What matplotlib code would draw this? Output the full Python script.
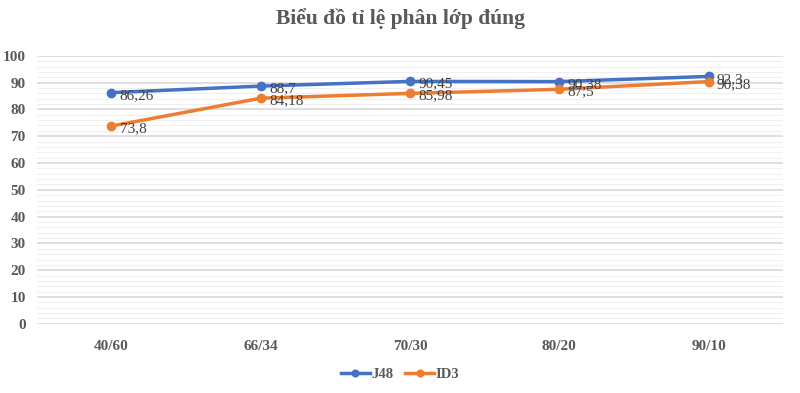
import matplotlib.pyplot as plt
from matplotlib.ticker import MultipleLocator

categorias = ['40/60', '66/34', '70/30', '80/20', '90/10']
j48 = [86.26, 88.7, 90.45, 90.38, 92.3]
id3 = [73.8, 84.18, 85.98, 87.5, 90.38]
etiquetas_j48 = ['86,26', '88,7', '90,45', '90,38', '92,3']
etiquetas_id3 = ['73,8', '84,18', '85,98', '87,5', '90,38']

plt.rcParams['font.family'] = ['Liberation Serif', 'DejaVu Serif']

fig = plt.figure(figsize=(8, 3.93), dpi=100)
ax = fig.add_axes([0.046, 0.176, 0.933, 0.682])

x = list(range(len(categorias)))
ax.plot(x, j48, color='#4472C4', lw=2.5, marker='o', ms=6, label='J48', zorder=3)
ax.plot(x, id3, color='#ED7D31', lw=2.5, marker='o', ms=6, label='ID3', zorder=3)

# etiquetas de datos a la derecha de cada punto
for xi, v, t in zip(x, j48, etiquetas_j48):
    ax.annotate(t, (xi, v), xytext=(6, -2), textcoords='offset points',
                va='center', ha='left', fontsize=11, color='#404040', zorder=4)
for xi, v, t in zip(x, id3, etiquetas_id3):
    ax.annotate(t, (xi, v), xytext=(6, -2), textcoords='offset points',
                va='center', ha='left', fontsize=11, color='#404040', zorder=4)

ax.set_xlim(-0.5, 4.5)
ax.set_ylim(0, 100)
ax.yaxis.set_major_locator(MultipleLocator(10))
ax.yaxis.set_minor_locator(MultipleLocator(2))
ax.set_xticks(x)
ax.set_xticklabels(categorias)
ax.grid(axis='y', which='major', color='#D9D9D9', lw=1.2, zorder=0)
ax.grid(axis='y', which='minor', color='#F0F0F0', lw=0.8, zorder=0)
for s in ax.spines.values():
    s.set_visible(False)
ax.tick_params(which='both', length=0)
ax.tick_params(axis='y', pad=8)
ax.tick_params(axis='x', pad=12)
for lbl in ax.get_xticklabels() + ax.get_yticklabels():
    lbl.set_fontweight('bold')
    lbl.set_fontsize(11)
    lbl.set_color('#595959')

fig.suptitle('Biểu đồ tỉ lệ phân lớp đúng', x=0.5, y=0.98, fontsize=15.5,
             fontweight='bold', color='#595959')

fig.legend(loc='center', bbox_to_anchor=(0.5, 0.048), ncol=2, frameon=False,
           prop={'weight': 'bold', 'size': 10.5}, labelcolor='#595959',
           handlelength=2, handletextpad=0.1, columnspacing=0.8, markerscale=0.8)

fig.savefig('out.png', dpi=100)
